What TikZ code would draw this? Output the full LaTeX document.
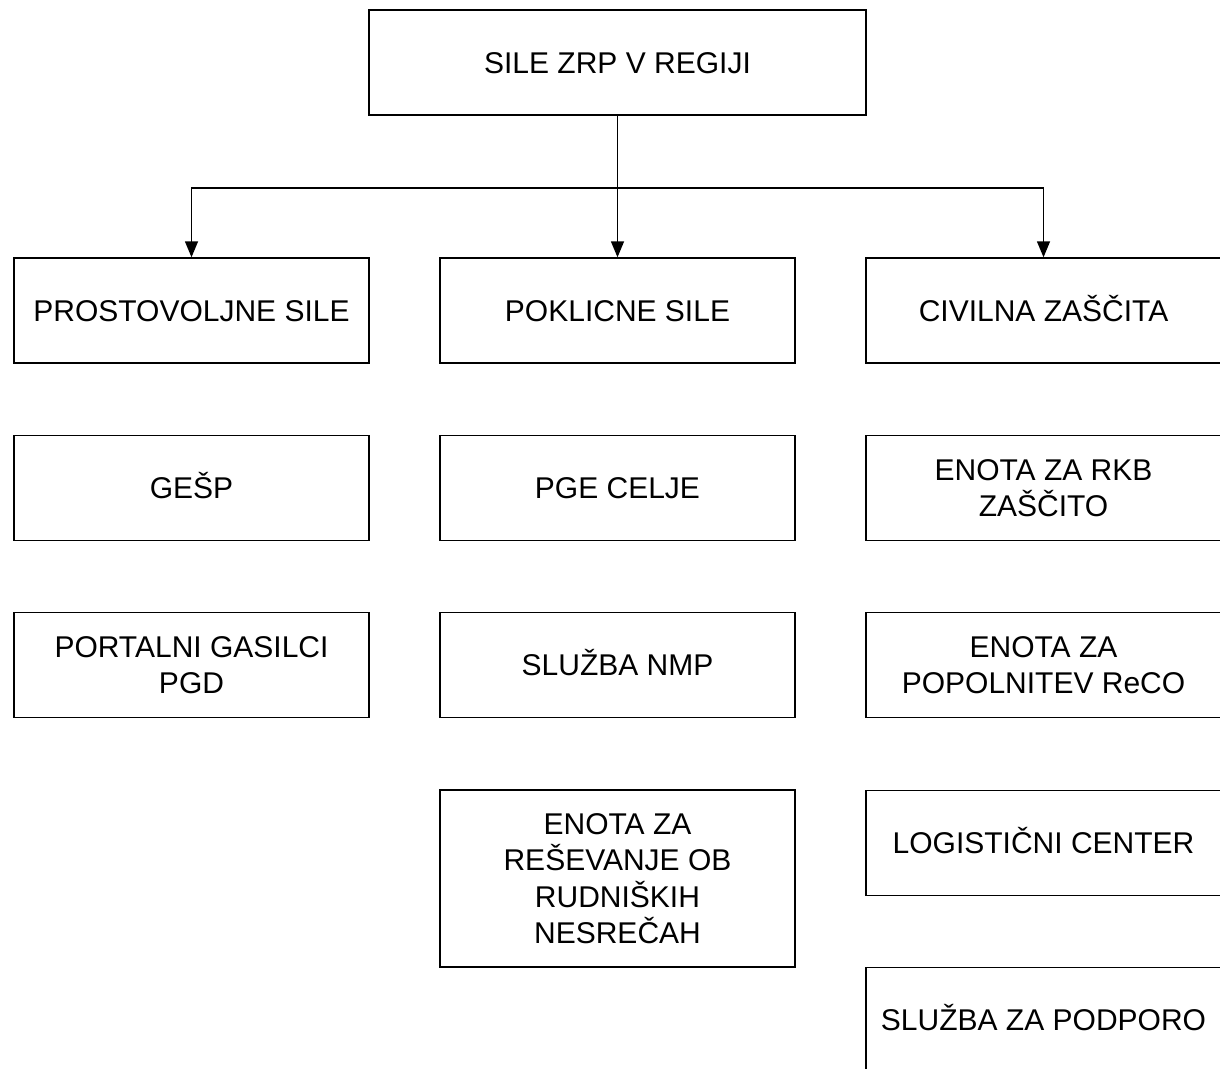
\documentclass[tikz,border=0pt]{standalone}
\usepackage{fontspec}
\setmainfont{Liberation Sans}
\usetikzlibrary{arrows.meta}
\begin{document}
\begin{tikzpicture}[x=1pt,y=-1pt,
  box/.style={draw,line width=1.4pt,minimum width=355pt,minimum height=105pt,inner sep=0pt,align=center,
    font=\fontsize{30}{36.5}\selectfont},
  onebox/.style={box,text height=21.5pt,text depth=0pt},
  tallbox/.style={box,minimum height=177pt},
  conn/.style={line width=1.4pt,-{Triangle[length=16pt,width=13pt]}}]
\useasboundingbox (0,0) rectangle (1220,1068);
\clip (0,0) rectangle (1220,1068);
\node[onebox,minimum width=497pt] (top) at (617.5,62.5) {SILE ZRP V REGIJI};
% column 1
\node[onebox] (pros) at (191.5,310.5) {PROSTOVOLJNE SILE};
\node[onebox] (gesp) at (191.5,488) {GEŠP};
\node[box] (port) at (191.5,665) {PORTALNI GASILCI\\PGD};
% column 2
\node[onebox] (pokl) at (617.5,310.5) {POKLICNE SILE};
\node[onebox] (pge) at (617.5,488) {PGE CELJE};
\node[onebox] (nmp) at (617.5,665) {SLUŽBA NMP};
\node[tallbox] (rud) at (617.5,878.5) {ENOTA ZA\\REŠEVANJE OB\\RUDNIŠKIH\\NESREČAH};
% column 3
\node[onebox] (cz) at (1043.5,310.5) {CIVILNA ZAŠČITA};
\node[box] (rkb) at (1043.5,488) {ENOTA ZA RKB\\ZAŠČITO};
\node[box] (reco) at (1043.5,665) {ENOTA ZA\\POPOLNITEV ReCO};
\node[onebox] (log) at (1043.5,843) {LOGISTIČNI CENTER};
\node[onebox] (pod) at (1043.5,1020) {SLUŽBA ZA PODPORO};
% connectors
\coordinate (j) at (617.5,188);
\draw[conn] (top.south) -- (pokl.north);
\draw[conn] (j) -| (pros.north);
\draw[conn] (j) -| (cz.north);
\end{tikzpicture}
\end{document}
